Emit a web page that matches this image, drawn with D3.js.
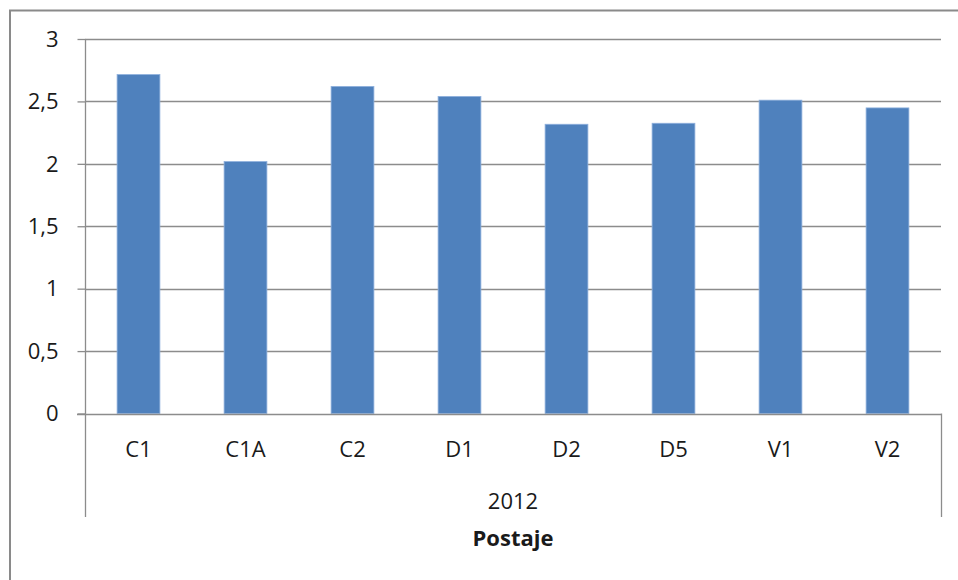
<!DOCTYPE html>
<html>
<head>
<meta charset="utf-8">
<script src="https://cdn.jsdelivr.net/npm/d3@7"></script>
<style>
  html, body { margin: 0; padding: 0; background: #fff; }
  svg { display: block; }
  text { font-family: "Open Sans", "Liberation Sans", sans-serif; fill: #1a1a1a; }
</style>
</head>
<body>
<svg id="chart" width="958" height="580"></svg>
<script>
const categories = ["C1", "C1A", "C2", "D1", "D2", "D5", "V1", "V2"];
const values = [2.715, 2.018, 2.62, 2.54, 2.317, 2.325, 2.51, 2.448];
const yTicks = [0, 0.5, 1, 1.5, 2, 2.5, 3];
const groupLabel = "2012";
const axisTitle = "Postaje";

const svg = d3.select("#chart");
const pLeft = 85, pRight = 941, pTop = 39, pBottom = 413.5;
const gridColor = "#8c8c8c";
const fs = 22;

// outer frame
svg.append("rect")
  .attr("x", 10).attr("y", 10.5)
  .attr("width", 960).attr("height", 600)
  .attr("fill", "none").attr("stroke", "#8a8a8a").attr("stroke-width", 2);

const x = d3.scaleBand().domain(categories).range([pLeft, pRight]).paddingInner(0.6).paddingOuter(0.3);
const y = d3.scaleLinear().domain([0, 3]).range([pBottom, pTop]);

const fmt = d => String(d).replace(".", ",");

// gridlines
svg.append("g").selectAll("line").data(yTicks.filter(d => d > 0)).join("line")
  .attr("x1", pLeft).attr("x2", pRight)
  .attr("y1", d => Math.round(y(d)) + 0.5).attr("y2", d => Math.round(y(d)) + 0.5)
  .attr("stroke", gridColor).attr("stroke-width", 1.3);

// y axis
const yAxis = d3.axisLeft(y).tickValues(yTicks).tickFormat(fmt).tickSize(8).tickPadding(19);
const gy = svg.append("g").attr("transform", `translate(${pLeft + 0.5},0)`).call(yAxis);
gy.select(".domain").remove();
gy.selectAll(".tick line").attr("stroke", gridColor).attr("stroke-width", 1.3);
gy.selectAll(".tick text").attr("font-size", fs).attr("font-family", "Open Sans").attr("fill", "#1a1a1a")
  .attr("dy", "0.33em");

// bars
svg.append("g").selectAll("rect").data(values).join("rect")
  .attr("x", (d, i) => x(categories[i]))
  .attr("width", x.bandwidth())
  .attr("y", d => y(d))
  .attr("height", d => y(0) - y(d))
  .attr("fill", "#4f81bd")
  .attr("stroke", "#8eb0dc").attr("stroke-width", 0.8);

// vertical axis line
svg.append("line").attr("x1", pLeft + 0.5).attr("x2", pLeft + 0.5)
  .attr("y1", pTop).attr("y2", 517)
  .attr("stroke", gridColor).attr("stroke-width", 1.3);
// right group separator
svg.append("line").attr("x1", pRight + 0.5).attr("x2", pRight + 0.5)
  .attr("y1", pBottom).attr("y2", 517)
  .attr("stroke", gridColor).attr("stroke-width", 1.3);
// baseline
svg.append("line").attr("x1", pLeft - 8).attr("x2", pRight)
  .attr("y1", Math.round(pBottom) + 0.5).attr("y2", Math.round(pBottom) + 0.5)
  .attr("stroke", gridColor).attr("stroke-width", 1.3);

// category labels
const xAxis = d3.axisBottom(x).tickSize(0).tickPadding(0);
const gx = svg.append("g").attr("transform", `translate(0,${pBottom})`).call(xAxis);
gx.select(".domain").remove();
gx.selectAll(".tick text").attr("font-size", fs).attr("font-family", "Open Sans").attr("fill", "#1a1a1a")
  .attr("dy", null).attr("y", 43);

svg.append("text").attr("x", (pLeft + pRight) / 2).attr("y", 509)
  .attr("text-anchor", "middle").attr("font-size", fs).text(groupLabel);

svg.append("text").attr("x", (pLeft + pRight) / 2).attr("y", 546)
  .attr("text-anchor", "middle").attr("font-size", fs).attr("font-weight", "bold").text(axisTitle);
</script>
</body>
</html>
